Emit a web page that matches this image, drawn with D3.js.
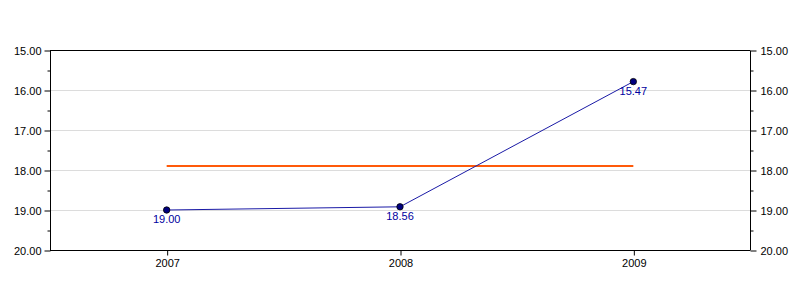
<!DOCTYPE html>
<html>
  <head>
    <script src="https://cdn.jsdelivr.net/npm/d3@7"></script>
    <style>
      body { margin: 0; background: #fff; }
      text { font-family: "Liberation Sans", Arial, sans-serif; }
    </style>
  </head>
  <body>
  <script>
    var years = ['2007', '2008', '2009'];
    var values = [19.00, 18.92, 15.79];
    var labels = ['19.00', '18.56', '15.47'];
    var average = 17.9;
    var yTicks = [15, 16, 17, 18, 19, 20];
    var yMinor = [15.5, 16.5, 17.5, 18.5, 19.5];

    var plotLeft = 50, plotRight = 750, plotTop = 50, plotBottom = 250;

    var svg = d3.select('body').append('svg')
      .attr('width', 800).attr('height', 300);

    var x = d3.scalePoint().domain(years).range([plotLeft, plotRight]).padding(0.5);
    var y = d3.scaleLinear().domain([15, 20]).range([plotTop, plotBottom]);

    // gridlines
    svg.selectAll('.grid').data(yTicks.slice(1, -1)).enter().append('line')
      .attr('x1', plotLeft).attr('x2', plotRight)
      .attr('y1', function(d) { return y(d) + 0.5; })
      .attr('y2', function(d) { return y(d) + 0.5; })
      .attr('stroke', '#dcdcdc');

    // top border
    svg.append('line').attr('x1', plotLeft).attr('x2', plotRight)
      .attr('y1', plotTop + 0.5).attr('y2', plotTop + 0.5).attr('stroke', '#000');

    var fmt = d3.format('.2f');

    var yl = svg.append('g').attr('transform', 'translate(' + (plotLeft + 0.5) + ',0.5)')
      .call(d3.axisLeft(y).tickValues(yTicks).tickFormat(fmt).tickSize(6).tickPadding(3));
    var ylm = svg.append('g').attr('transform', 'translate(' + (plotLeft + 0.5) + ',0.5)')
      .call(d3.axisLeft(y).tickValues(yMinor).tickFormat('').tickSize(3));
    var yr = svg.append('g').attr('transform', 'translate(' + (plotRight + 0.5) + ',0.5)')
      .call(d3.axisRight(y).tickValues(yTicks).tickFormat(fmt).tickSize(6).tickPadding(4));
    var yrm = svg.append('g').attr('transform', 'translate(' + (plotRight + 0.5) + ',0.5)')
      .call(d3.axisRight(y).tickValues(yMinor).tickFormat('').tickSize(3));
    var xa = svg.append('g').attr('transform', 'translate(0.5,' + (plotBottom + 0.5) + ')')
      .call(d3.axisBottom(x).tickSize(5).tickPadding(4).tickSizeOuter(0));

    svg.selectAll('.domain').attr('stroke', '#000');
    svg.selectAll('.tick line').attr('stroke', '#000');
    svg.selectAll('.tick text').attr('font-size', 11).attr('fill', '#000')
      .attr('font-family', '"Liberation Sans", Arial, sans-serif');
    xa.select('.domain').attr('d', 'M' + (plotLeft - 0.5) + ',0H' + (plotRight - 0.5));
    ylm.select('.domain').remove(); yrm.select('.domain').remove();
    yl.select('.domain').attr('d', 'M0,' + plotTop + 'V' + plotBottom);
    yr.select('.domain').attr('d', 'M0,' + plotTop + 'V' + plotBottom);

    // average line
    svg.append('line')
      .attr('x1', x(years[0])).attr('x2', x(years[years.length - 1]))
      .attr('y1', y(average)).attr('y2', y(average))
      .attr('stroke', '#ff5a0a').attr('stroke-width', 2);

    var line = d3.line()
      .x(function(d, i) { return x(years[i]); })
      .y(function(d) { return y(d); });

    svg.append('path').datum(values)
      .attr('d', line).attr('fill', 'none')
      .attr('stroke', '#1a1aa6').attr('stroke-width', 1);

    svg.selectAll('.pt').data(values).enter().append('circle')
      .attr('cx', function(d, i) { return x(years[i]); })
      .attr('cy', function(d) { return y(d); })
      .attr('r', 3.2)
      .attr('fill', '#000080').attr('stroke', '#000').attr('stroke-width', 0.8);

    svg.selectAll('.lbl').data(values).enter().append('text')
      .attr('x', function(d, i) { return x(years[i]); })
      .attr('y', function(d) { return y(d) + 13; })
      .attr('text-anchor', 'middle')
      .attr('font-size', 11).attr('fill', '#0000a0')
      .text(function(d, i) { return labels[i]; });
  </script>
  </body>
</html>
